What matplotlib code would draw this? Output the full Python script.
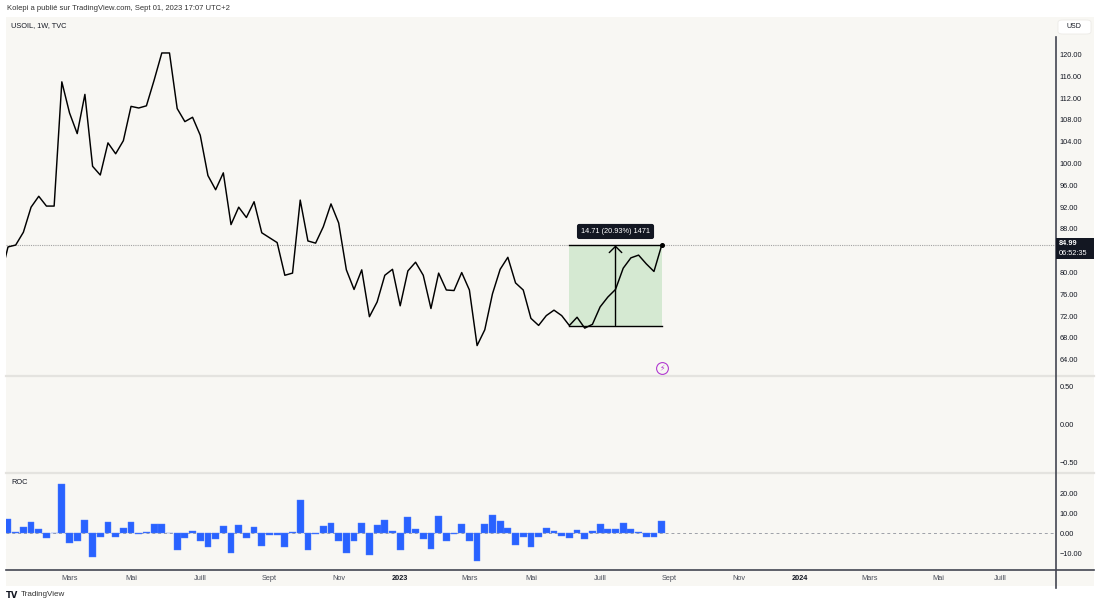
import numpy as np
import pandas as pd
import matplotlib.pyplot as plt
import matplotlib.dates as mdates
from matplotlib.patches import Rectangle, FancyBboxPatch
from matplotlib.lines import Line2D

plt.rcParams['font.family'] = ['Liberation Sans', 'DejaVu Sans']

# weekly closes USOIL (TVC)
weeks = pd.date_range('2022-01-03', '2023-08-28', freq='7D')
close = [78.9, 84.7, 85.05, 87.4, 92.0, 94.0, 92.2, 92.2, 115.0, 109.3,
         105.5, 112.7, 99.5, 97.9, 103.8, 101.8, 104.2, 110.5, 110.2, 110.6,
         115.3, 120.3, 120.3, 110.1, 107.7, 108.5, 105.2, 97.8, 95.2, 98.3,
         88.8, 92.0, 90.1, 93.0, 87.3, 86.4, 85.5, 79.5, 79.9, 93.3,
         85.8, 85.4, 88.4, 92.6, 89.1, 80.5, 76.9, 80.5, 71.9, 74.6,
         79.5, 80.6, 73.9, 80.3, 81.9, 79.5, 73.4, 79.9, 76.8, 76.7,
         80.0, 76.8, 66.6, 69.5, 76.1, 80.6, 82.8, 78.1, 76.8, 71.6,
         70.3, 72.1, 73.1, 72.1, 70.28, 71.8, 69.8, 70.5, 73.7, 75.5,
         76.9, 80.8, 82.7, 83.2, 81.6, 80.2, 84.99]

# ROC columns, starting at 2022-01-10
roc = [7.2, 0.7, 3.0, 5.5, 2.0, -2.2, 0.2, 25.0, -5.0, -3.7,
       7.0, -12.0, -1.7, 6.0, -2.0, 2.5, 6.0, -0.3, 0.7, 4.7,
       4.7, 0.1, -8.5, -2.2, 1.0, -3.7, -7.0, -2.7, 3.7, -10.0,
       4.0, -2.3, 3.3, -6.3, -1.0, -1.0, -7.0, 0.7, 17.0, -8.3,
       -0.5, 3.7, 5.0, -3.8, -10.0, -4.0, 5.0, -11.0, 4.0, 6.7,
       1.3, -8.3, 8.3, 2.0, -2.8, -8.0, 8.8, -4.0, -0.2, 4.7,
       -4.0, -14.0, 4.7, 9.5, 6.3, 2.7, -5.8, -1.7, -7.0, -1.7,
       2.7, 1.3, -1.2, -2.3, 1.7, -3.0, 1.3, 4.5, 2.0, 2.0,
       5.3, 2.3, 0.7, -2.0, -1.7, 6.3]

price_ticks = [64, 68, 72, 76, 80, 88, 92, 96, 100, 104, 108, 112, 116, 120]
roc_ticks = [-10, 0, 10, 20]
empty_ticks = [-0.5, 0.0, 0.5]

month_dates = ['2022-03-07', '2022-05-02', '2022-07-04', '2022-09-05', '2022-11-07',
               '2023-01-02', '2023-03-06', '2023-05-01', '2023-07-03', '2023-09-04',
               '2023-11-06', '2024-01-01', '2024-03-04', '2024-05-06', '2024-07-01']
month_labels = ['Mars', 'Mai', 'Juill', 'Sept', 'Nov', '2023', 'Mars', 'Mai', 'Juill',
                'Sept', 'Nov', '2024', 'Mars', 'Mai', 'Juill']

measure_start = '2023-06-05'
measure_end = '2023-08-28'
measure_low = 70.28
measure_high = 84.99
measure_label = '14.71 (20.93%) 1471'
last_price = 84.99

BG = '#f8f7f3'
DARK = '#131722'
W, H = 1100, 608


def box(l, t, r, b):
    return [l / W, 1 - b / H, (r - l) / W, (b - t) / H]


fig = plt.figure(figsize=(11, 6.08), dpi=100)
fig.patch.set_facecolor('white')
fig.patches.append(Rectangle((6 / W, 1 - 586 / H), 1088 / W, 569 / H,
                             transform=fig.transFigure, fc=BG, ec='none', zorder=-5))

ax1 = fig.add_axes(box(6, 17, 1055, 375))
ax2 = fig.add_axes(box(6, 377, 1055, 472))
ax3 = fig.add_axes(box(6, 474, 1055, 569))

x0 = mdates.date2num(weeks[1])
px_day = 7.69 / 7
xlim = (x0 - 2 / px_day, x0 + 1047 / px_day)

for ax in (ax1, ax2, ax3):
    ax.set_facecolor(BG)
    for s in ax.spines.values():
        s.set_visible(False)
    ax.set_xlim(xlim)
    ax.yaxis.tick_right()
    ax.tick_params(axis='y', length=0, pad=3.5, labelsize=5.3, labelcolor=DARK)
    ax.tick_params(axis='x', length=0)

# main price pane
ax1.plot(weeks, close, color='black', lw=1.05, zorder=3)
ax1.plot(weeks[-1], close[-1], 'o', ms=2.6, color='black', zorder=4)
ax1.axhline(last_price, color='#a3a3a3', ls=(0, (1, 1)), lw=0.8, zorder=1)

ms, me = mdates.datestr2num(measure_start), mdates.datestr2num(measure_end)
ax1.add_patch(Rectangle((ms, measure_low), me - ms, measure_high - measure_low,
                        fc='#d5e9d2', ec='none', zorder=2))
ax1.plot([ms, me], [measure_low, measure_low], color='black', lw=1, zorder=3)
ax1.plot([ms, me], [measure_high, measure_high], color='black', lw=1, zorder=3)
mid = (ms + me) / 2
ax1.annotate('', xy=(mid, measure_high), xytext=(mid, measure_low),
             arrowprops=dict(arrowstyle='->,head_length=0.45,head_width=0.45',
                             lw=1, color='black', shrinkA=0, shrinkB=0), zorder=4)
ax1.annotate(measure_label, xy=(mid, measure_high), xytext=(0, 10),
             textcoords='offset points', ha='center', va='center', color='white',
             fontsize=5.3, bbox=dict(boxstyle='round,pad=0.55,rounding_size=0.3',
                                     fc=DARK, ec='none'))

ax1.set_ylim(61.2, 126.9)
ax1.set_yticks(price_ticks)
ax1.set_yticklabels([f'{v:.2f}' for v in price_ticks])
ax1.set_xticks([])

# empty pane
ax2.set_ylim(-0.62, 0.63)
ax2.set_yticks(empty_ticks)
ax2.set_yticklabels([f'{v:.2f}'.replace('-', '\u2212') for v in empty_ticks])
ax2.set_xticks([])

# ROC pane
ax3.axhline(0, color='#9ea1a8', ls=(0, (3, 3)), lw=0.7, zorder=1)
ax3.bar(weeks[1:], roc, width=6.2, color='#2962ff', edgecolor='#4f7dff',
        linewidth=0.3, zorder=2)
ax3.set_ylim(-18, 30)
ax3.set_yticks(roc_ticks)
ax3.set_yticklabels([f'{v:.2f}'.replace('-', '\u2212') for v in roc_ticks])
ax3.set_xticks(mdates.datestr2num(month_dates))
ax3.set_xticklabels(month_labels)
ax3.tick_params(axis='x', pad=4.5, labelsize=5.3, labelcolor='#4a4e59')
for lbl in ax3.get_xticklabels():
    if lbl.get_text().isdigit():
        lbl.set_fontweight('bold')
        lbl.set_color(DARK)

# frame lines, separators
sep = '#e4e3df'
for y in (376, 473):
    fig.add_artist(Line2D([6 / W, 1094 / W], [1 - y / H] * 2, color=sep, lw=1.6))
fig.add_artist(Line2D([6 / W, 1094 / W], [1 - 569.5 / H] * 2, color='#434651', lw=1.2))
fig.add_artist(Line2D([1055.5 / W] * 2, [1 - 37 / H, 1 - 588 / H], color='#434651', lw=1.2))

# texts
fig.text(7 / W, 1 - 9 / H, 'Kolepi a publié sur TradingView.com, Sept 01, 2023 17:07 UTC+2',
         fontsize=5.5, color='#333333', va='center', ha='left')
fig.text(11 / W, 1 - 26 / H, 'USOIL, 1W, TVC', fontsize=5.3, color=DARK, va='center')
fig.text(11 / W, 1 - 483 / H, 'ROC', fontsize=5.3, color=DARK, va='center')

fig.patches.append(FancyBboxPatch((1058 / W, 1 - 34 / H), 33 / W, 14 / H,
                                  boxstyle='round,pad=0,rounding_size=0.004',
                                  transform=fig.transFigure, fc='white',
                                  ec='#ecebe7', lw=0.6, zorder=2))
fig.text(1074 / W, 1 - 27 / H, 'USD', fontsize=5, color=DARK, ha='center', va='center')

fig.patches.append(Rectangle((1056 / W, 1 - 259 / H), 38 / W, 21 / H,
                             transform=fig.transFigure, fc=DARK, ec='none', zorder=3))
fig.text(1059 / W, 1 - 243.5 / H, f'{last_price:.2f}', fontsize=5.3, color='white',
         fontweight='bold', va='center', zorder=4)
fig.text(1059 / W, 1 - 253.5 / H, '06:52:35', fontsize=5.3, color='white',
         va='center', zorder=4)

# event marker
fig.add_artist(Line2D([662 / W], [1 - 368 / H], marker='o', ms=8.5, mfc='none',
                      mec='#b13ad0', mew=0.8, ls='none', zorder=5))
fig.text(662 / W, 1 - 368 / H, '\u26a1', fontsize=5.5, color='#b13ad0',
         ha='center', va='center', family=['DejaVu Sans'], zorder=6)

# footer
fig.text(6 / W, 1 - 595 / H, 'TV', fontsize=6, color=DARK, fontweight='bold',
         va='center', family=['DejaVu Sans'])
fig.text(21 / W, 1 - 595 / H, 'TradingView', fontsize=5.8, color='#333333', va='center')

fig.savefig('out.png', dpi=100, facecolor='white')
